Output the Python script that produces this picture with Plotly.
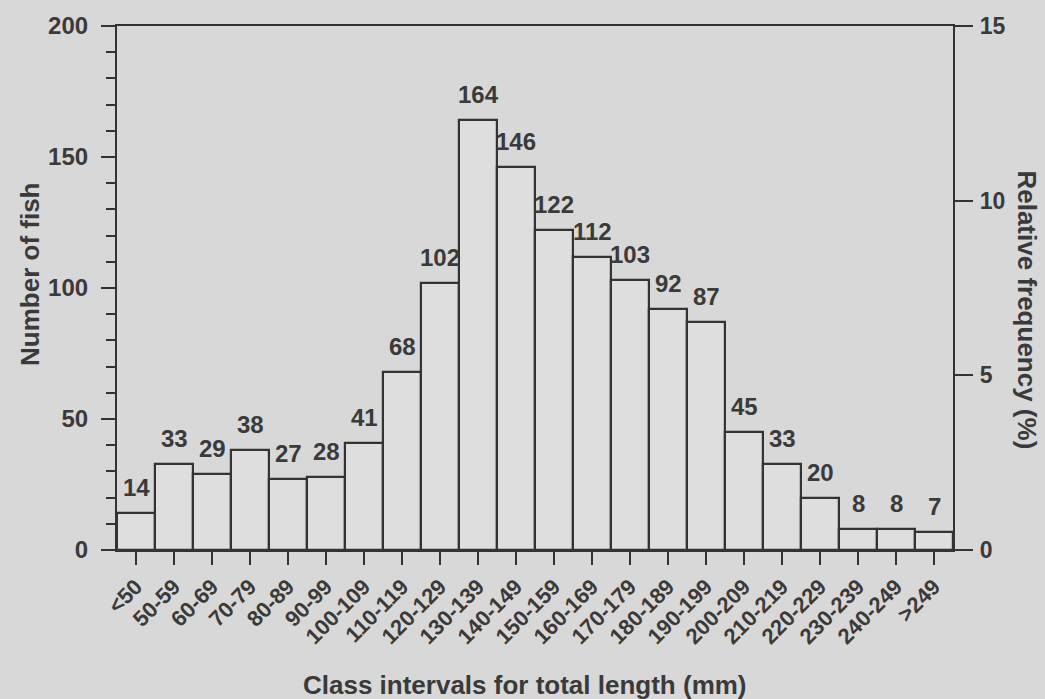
import plotly.graph_objects as go

categories = ["<50", "50-59", "60-69", "70-79", "80-89", "90-99", "100-109", "110-119",
              "120-129", "130-139", "140-149", "150-159", "160-169", "170-179", "180-189",
              "190-199", "200-209", "210-219", "220-229", "230-239", "240-249", ">249"]
counts = [14, 33, 29, 38, 27, 28, 41, 68, 102, 164, 146, 122, 112, 103, 92, 87, 45, 33, 20, 8, 8, 7]
left_ticks = [0, 50, 100, 150, 200]
right_ticks = [0, 5, 10, 15]

total = sum(counts)
rel_freq = [c / total * 100 for c in counts]

INK = "#3a3a3a"
LINE = "#333333"
BG = "#d8d8d8"
FONT = "Liberation Sans, Arial, sans-serif"

fig = go.Figure()
fig.add_trace(go.Bar(
    x=categories, y=counts,
    marker=dict(color="#dedede", line=dict(color=LINE, width=2.2)),
    showlegend=False, hoverinfo="x+y",
))
fig.add_trace(go.Scatter(
    x=categories, y=rel_freq, yaxis="y2", mode="markers",
    marker=dict(opacity=0), hoverinfo="skip", showlegend=False,
))

for cat, c in zip(categories, counts):
    fig.add_annotation(
        x=cat, y=c, xref="x", yref="y", text=str(c), showarrow=False,
        yanchor="bottom", yshift=10,
        font=dict(family=FONT, size=24, color=INK, weight="bold"),
    )

title_font = dict(family=FONT, size=26, color=INK, weight="bold")
fig.add_annotation(text="Number of fish", xref="paper", yref="paper", x=-0.104, y=0.525,
                   textangle=-90, showarrow=False, xanchor="center", yanchor="middle",
                   font=title_font)
fig.add_annotation(text="Relative frequency (%)", xref="paper", yref="paper", x=1.088, y=0.458,
                   textangle=90, showarrow=False, xanchor="center", yanchor="middle",
                   font=title_font)
fig.add_annotation(text="Class intervals for total length (mm)", xref="paper", yref="paper",
                   x=0.488, y=-0.258, showarrow=False, xanchor="center", yanchor="middle",
                   font=title_font)

fig.update_layout(
    width=1045, height=699,
    paper_bgcolor=BG, plot_bgcolor=BG,
    margin=dict(l=117, r=92, t=21, b=149),
    bargap=0,
    font=dict(family=FONT, color=INK, weight="bold"),
    xaxis=dict(
        type="category", range=[-0.5, len(categories) - 0.5],
        showline=True, linecolor=LINE, linewidth=2.2, mirror=True,
        ticks="outside", ticklen=13, tickwidth=2, tickcolor=LINE,
        tickangle=-45, tickfont=dict(size=22, color=INK, weight="bold"),
        showgrid=False, zeroline=False,
    ),
    yaxis=dict(
        range=[0, 200], tickvals=left_ticks, showline=True, linecolor=LINE, linewidth=2.2,
        ticks="outside", ticklen=14, tickwidth=2, tickcolor=LINE,
        minor=dict(dtick=10, ticks="outside", ticklen=9, tickwidth=2, tickcolor=LINE),
        tickfont=dict(size=24, color=INK, weight="bold"), ticklabelstandoff=8,
        showgrid=False, zeroline=False,
    ),
    yaxis2=dict(
        range=[0, 15], tickvals=right_ticks, overlaying="y", side="right",
        showline=True, linecolor=LINE, linewidth=2.2,
        ticks="outside", ticklen=18, tickwidth=2, tickcolor=LINE,
        tickfont=dict(size=23, color=INK, weight="bold"), ticklabelstandoff=2,
        showgrid=False, zeroline=False,
    ),
)

fig.write_html("out.html", config={"displayModeBar": False},
               post_script="document.body.style.margin='0';")
